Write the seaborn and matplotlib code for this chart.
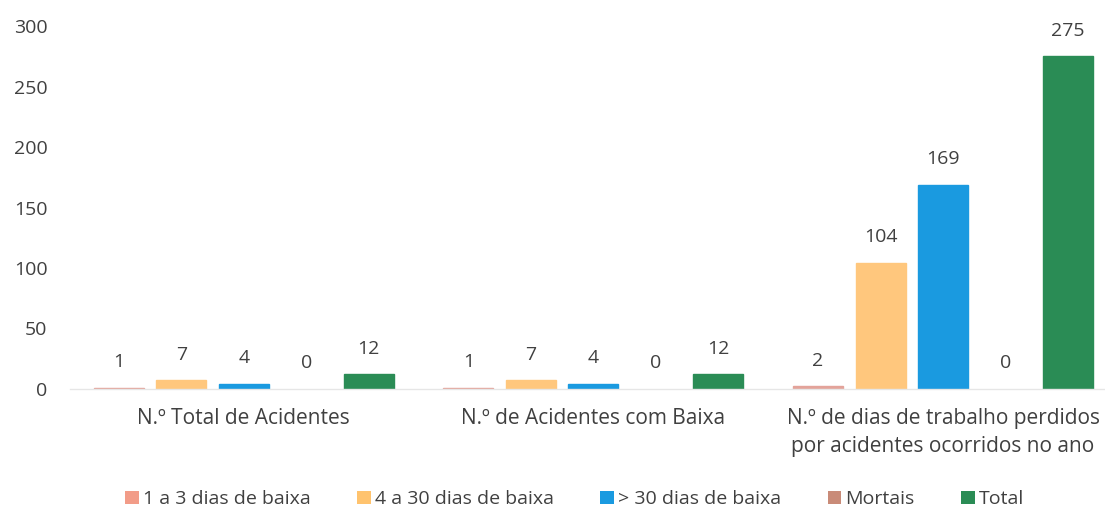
import pandas as pd
import seaborn as sns
import matplotlib.pyplot as plt
from matplotlib.patches import Patch

categories = ["N.º Total de Acidentes", "N.º de Acidentes com Baixa",
              "N.º de dias de trabalho perdidos\npor acidentes ocorridos no ano"]
series = ["1 a 3 dias de baixa", "4 a 30 dias de baixa", "> 30 dias de baixa", "Mortais", "Total"]
v_1a3 = [1, 1, 2]
v_4a30 = [7, 7, 104]
v_30 = [4, 4, 169]
v_mortais = [0, 0, 0]
v_total = [12, 12, 275]
colors = ["#E3A39A", "#FFC77D", "#1A9AE0", "#C98B78", "#2A8C55"]
legend_colors = ["#F29C88", "#FFC36E", "#1A9AE0", "#C98B78", "#2A8C55"]

rows = []
for s, vals in zip(series, [v_1a3, v_4a30, v_30, v_mortais, v_total]):
    for c, v in zip(categories, vals):
        rows.append({"Categoria": c, "Série": s, "Valor": v})
df = pd.DataFrame(rows)

sns.set_style("white")
plt.rcParams['font.family'] = ['Open Sans', 'DejaVu Sans']

fig = plt.figure(figsize=(11.05, 5.13), dpi=100)
ax = fig.add_axes([0.063, 0.242, 0.937, 0.707])

sns.barplot(data=df, x="Categoria", y="Valor", hue="Série", order=categories,
            hue_order=series, palette=colors, width=0.894, gap=0.2,
            saturation=1, legend=False, ax=ax)

for cont, c in zip(ax.containers, colors):
    for bar in cont:
        if bar.get_height() > 0:
            bar.set_edgecolor(c)
            bar.set_linewidth(1)
    ax.bar_label(cont, padding=12, fontsize=14, color="#404040", clip_on=False)

ax.set_ylim(0, 300)
ax.set_xlim(-0.498, 2.463)
ax.set_yticks(range(0, 301, 50))
ax.set_xlabel("")
ax.set_ylabel("")
ax.tick_params(axis="both", length=0, labelsize=14, labelcolor="#404040")
ax.tick_params(axis="x", pad=14, labelsize=15)
ax.tick_params(axis="y", pad=16)
for lab in ax.get_xticklabels():
    lab.set_linespacing(1.4)
sns.despine(ax=ax, left=True, top=True, right=True)
ax.spines["bottom"].set_color("#E6E6E6")
ax.spines["bottom"].set_linewidth(1)

handles = [Patch(facecolor=c, edgecolor="none") for c in legend_colors]
fig.legend(handles, series, loc="lower center", bbox_to_anchor=(0.52, -0.025),
           ncol=5, frameon=False, fontsize=14, handlelength=0.7, handleheight=0.7,
           handletextpad=0.2, columnspacing=2.4, labelcolor="#404040")

plt.savefig("out.png", dpi=100)
